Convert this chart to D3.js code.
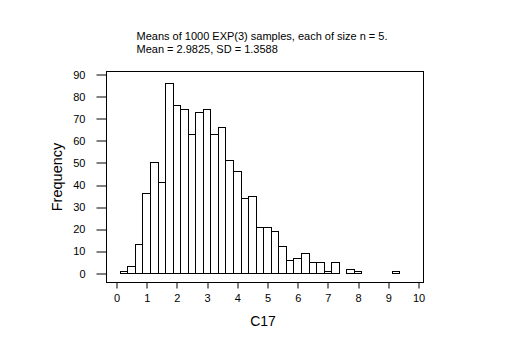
<!DOCTYPE html>
<html>
<head>
<meta charset="utf-8">
<script src="https://cdn.jsdelivr.net/npm/d3@7"></script>
<style>
  html, body { margin: 0; padding: 0; background: #fff; }
  svg { display: block; }
  text { font-family: "Liberation Sans", Arial, sans-serif; fill: #000; }
</style>
</head>
<body>
<svg id="chart" width="530" height="354"></svg>
<script>
// Bin midpoints (width 0.25) and frequencies
const binMidpoints = [0.25,0.5,0.75,1.0,1.25,1.5,1.75,2.0,2.25,2.5,2.75,3.0,3.25,3.5,3.75,4.0,4.25,4.5,4.75,5.0,5.25,5.5,5.75,6.0,6.25,6.5,6.75,7.0,7.25,7.5,7.75,8.0,8.25,8.5,8.75,9.0,9.25];
const frequencies  = [1,3,13,36,50,41,86,76,74,63,73,74,63,66,51,46,34,35,21,21,19,12,6,7,9,5,5,1,5,0,2,1,0,0,0,0,1];
const binWidth = 0.25;
const xTicks = [0,1,2,3,4,5,6,7,8,9,10];
const yTicks = [0,10,20,30,40,50,60,70,80,90];
const titleLines = ["Means of 1000 EXP(3) samples, each of size n = 5.", "Mean = 2.9825, SD = 1.3588"];
const xLabel = "C17";
const yLabel = "Frequency";

const svg = d3.select("#chart");
const frame = {left: 106.5, top: 71.5, right: 423.5, bottom: 282.5};

const x = d3.scaleLinear().domain([0, 10]).range([116.5, 418.5]);
const y = d3.scaleLinear().domain([0, 90]).range([273.5, 74.5]);

// frame
svg.append("rect")
  .attr("x", frame.left).attr("y", frame.top)
  .attr("width", frame.right - frame.left).attr("height", frame.bottom - frame.top)
  .attr("fill", "none").attr("stroke", "#000").attr("stroke-width", 1);

// bars
svg.append("g").selectAll("rect")
  .data(binMidpoints.map((m, i) => ({m, f: frequencies[i]})))
  .join("rect")
  .attr("x", d => Math.round(x(d.m - binWidth / 2) - 0.5) + 0.5)
  .attr("width", d => Math.round(x(d.m + binWidth / 2) - 0.5) - Math.round(x(d.m - binWidth / 2) - 0.5))
  .attr("y", d => Math.round(y(d.f) - 0.5) + 0.5)
  .attr("height", d => Math.round(y(0) - 0.5) - Math.round(y(d.f) - 0.5))
  .attr("fill", "#fff").attr("stroke", "#000").attr("stroke-width", 1);

// x axis
const xAxis = d3.axisBottom(x).tickValues(xTicks).tickSize(6).tickPadding(6).tickFormat(d3.format("d"));
const gx = svg.append("g").attr("transform", `translate(0,${frame.bottom})`).call(xAxis);
gx.select(".domain").remove();
gx.selectAll(".tick line").attr("stroke", "#000").attr("transform", d => `translate(${Math.round(x(d) - 0.5) + 0.5 - x(d)},0)`);
gx.selectAll(".tick text").attr("font-size", 11).attr("font-family", "Liberation Sans, Arial, sans-serif");

// y axis
const yAxis = d3.axisLeft(y).tickValues(yTicks).tickSize(10).tickPadding(11).tickFormat(d3.format("d"));
const gy = svg.append("g").attr("transform", `translate(${frame.left},0)`).call(yAxis);
gy.select(".domain").remove();
gy.selectAll(".tick line").attr("stroke", "#000").attr("transform", d => `translate(0,${Math.round(y(d) - 0.5) + 0.5 - y(d)})`);
gy.selectAll(".tick text").attr("font-size", 11).attr("font-family", "Liberation Sans, Arial, sans-serif");

// title
svg.append("g").selectAll("text").data(titleLines).join("text")
  .attr("x", 136.5).attr("y", (d, i) => 40 + i * 13)
  .attr("font-size", 11).text(d => d);

// axis labels
svg.append("text").attr("x", 263).attr("y", 326).attr("text-anchor", "middle")
  .attr("font-size", 14).text(xLabel);
svg.append("text").attr("transform", "translate(62,177) rotate(-90)").attr("text-anchor", "middle")
  .attr("font-size", 14.5).text(yLabel);
</script>
</body>
</html>
